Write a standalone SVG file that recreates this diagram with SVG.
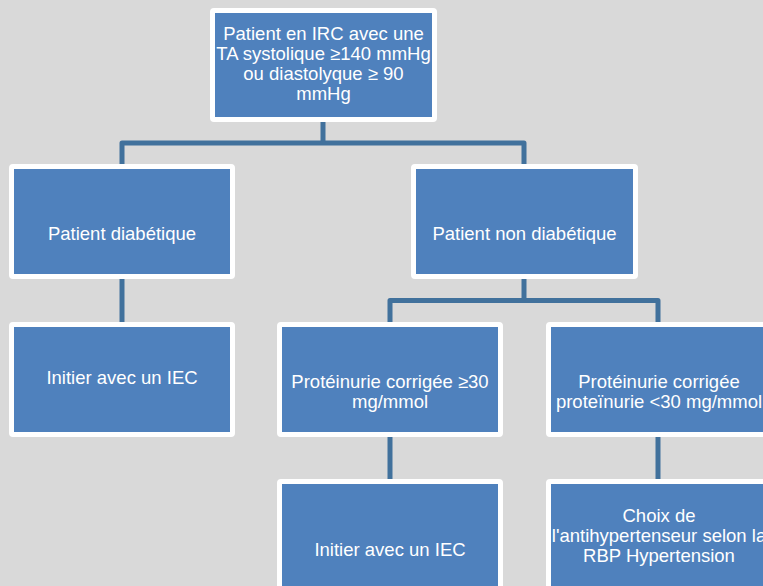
<svg xmlns="http://www.w3.org/2000/svg" width="763" height="586" viewBox="0 0 763 586">
<style>
.box{fill:#4f81bd;stroke:#ffffff;stroke-width:5;}
.lbl{font-family:"Liberation Sans",Arial,sans-serif;font-size:18.5px;fill:#ffffff;text-anchor:middle;}
.conn{fill:none;stroke:#41719c;stroke-width:5;stroke-linejoin:round;}
</style>
<rect width="763" height="586" fill="#d9d9d9"/>
<g id="connectors">
<path class="conn" d="M122,166 V143 H524 V166"/>
<path class="conn" d="M323,120 V143"/>
<path class="conn" d="M122,277 V324"/>
<path class="conn" d="M390,324 V300.5 H658 V324"/>
<path class="conn" d="M524,277 V300.5"/>
<path class="conn" d="M390,435 V481"/>
<path class="conn" d="M658,435 V481"/>
</g>
<g id="n_root">
<rect class="box" x="212.5" y="10.5" width="222" height="109" rx="1.5"/>
<text class="lbl" x="323.5" y="39.5">Patient en IRC avec une</text>
<text class="lbl" x="323.5" y="59.5">TA systolique ≥140 mmHg</text>
<text class="lbl" x="323.5" y="79.5">ou diastolyque ≥ 90</text>
<text class="lbl" x="323.5" y="99.5">mmHg</text>
</g>
<g id="n_diab">
<rect class="box" x="11.5" y="166.5" width="221" height="110" rx="1.5"/>
<text class="lbl" x="122" y="240">Patient diabétique</text>
</g>
<g id="n_iec1">
<rect class="box" x="11.5" y="324.5" width="221" height="110" rx="1.5"/>
<text class="lbl" x="122" y="384">Initier avec un IEC</text>
</g>
<g id="n_nondiab">
<rect class="box" x="413.5" y="166.5" width="222" height="110" rx="1.5"/>
<text class="lbl" x="524.5" y="240">Patient non diabétique</text>
</g>
<g id="n_prot30">
<rect class="box" x="279.5" y="324.5" width="221" height="110" rx="1.5"/>
<text class="lbl" x="390" y="388">Protéinurie corrigée ≥30</text>
<text class="lbl" x="390" y="408">mg/mmol</text>
</g>
<g id="n_protlt30">
<rect class="box" x="548.5" y="324.5" width="221" height="110" rx="1.5"/>
<text class="lbl" x="659" y="388">Protéinurie corrigée</text>
<text class="lbl" x="659" y="408">proteïnurie &lt;30 mg/mmol</text>
</g>
<g id="n_iec2">
<rect class="box" x="279.5" y="481.5" width="221" height="110" rx="1.5"/>
<text class="lbl" x="390" y="555.5">Initier avec un IEC</text>
</g>
<g id="n_choix">
<rect class="box" x="548.5" y="481.5" width="221" height="110" rx="1.5"/>
<text class="lbl" x="659" y="522">Choix de</text>
<text class="lbl" x="659" y="542">l'antihypertenseur selon la</text>
<text class="lbl" x="659" y="561.5">RBP Hypertension</text>
</g>
</svg>
